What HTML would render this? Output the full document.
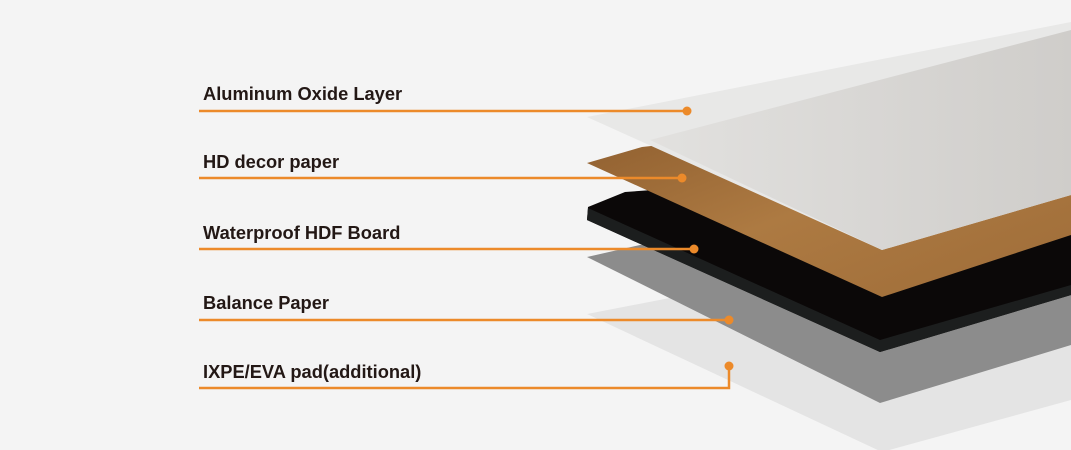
<!DOCTYPE html>
<html><head><meta charset="utf-8"><style>
html,body{margin:0;padding:0}
body{width:1071px;height:450px;overflow:hidden;background:#f4f4f4;position:relative;font-family:"Liberation Sans",sans-serif}
.t{position:absolute;left:203px;font-weight:bold;font-size:18.3px;color:#231815;line-height:1;white-space:nowrap}
svg{position:absolute;left:0;top:0}
</style></head><body>
<svg width="1071" height="450" viewBox="0 0 1071 450">
<defs>
<linearGradient id="wood" x1="0" y1="0" x2="1" y2="1">
<stop offset="0" stop-color="#8a5a2c"/><stop offset="0.5" stop-color="#ad7a42"/><stop offset="1" stop-color="#9e6c38"/>
</linearGradient>
<linearGradient id="topg" x1="0" y1="0" x2="1" y2="0">
<stop offset="0" stop-color="#e2e1df"/><stop offset="1" stop-color="#cfcdca"/>
</linearGradient>
</defs>
<polygon points="587,314 680,296 1071,260 1071,400 882,452" fill="#e4e4e4"/>
<polygon points="587,257 640,245 1071,210 1071,345 880,403" fill="#8c8c8c"/>
<polygon points="588,207 625,192 1071,160 1071,295 880,352 587,220" fill="#0b0808"/>
<polygon points="587,220 880,352 1071,295 1071,285 880,340 588,208" fill="#1c1e1e"/>
<polygon points="587,163 642,147 1071,100 1071,235 882,297" fill="url(#wood)"/>
<polygon points="587,117 1071,22 1071,195 882,250" fill="#e8e8e7"/>
<polygon points="650,140 1071,30 1071,195 882,250" fill="url(#topg)"/>
<g stroke="#ec8a2a" stroke-width="2.5" fill="none">
<line x1="199" y1="111" x2="687" y2="111"/>
<line x1="199" y1="178" x2="682" y2="178"/>
<line x1="199" y1="249" x2="694" y2="249"/>
<line x1="199" y1="320" x2="729" y2="320"/>
<polyline points="199,388 729,388 729,366"/>
</g>
<g fill="#ec8a2a">
<circle cx="687" cy="111" r="4.5"/><circle cx="682" cy="178" r="4.5"/>
<circle cx="694" cy="249" r="4.5"/><circle cx="729" cy="320" r="4.5"/>
<circle cx="729" cy="366" r="4.5"/>
</g>
</svg>
<div class="t" style="top:85px">Aluminum Oxide Layer</div>
<div class="t" style="top:153px">HD decor paper</div>
<div class="t" style="top:224px">Waterproof HDF Board</div>
<div class="t" style="top:294px">Balance Paper</div>
<div class="t" style="top:363px">IXPE/EVA pad(additional)</div>
</body></html>
